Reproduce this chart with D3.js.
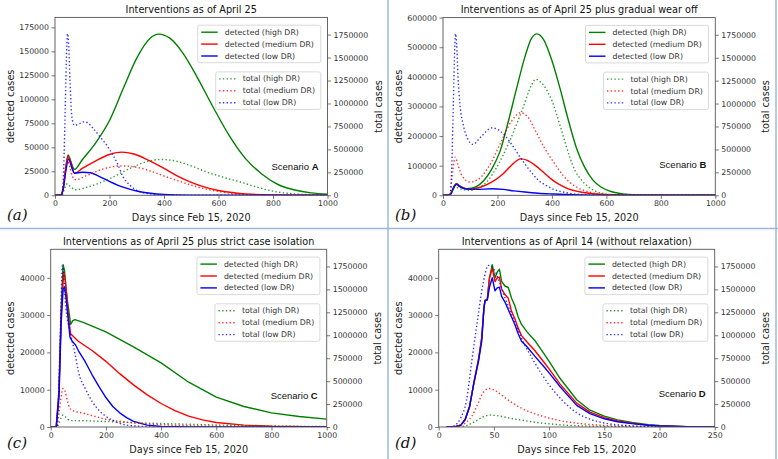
<!DOCTYPE html>
<html><head><meta charset="utf-8">
<script src="https://cdn.jsdelivr.net/npm/d3@7"></script>
<style>body{margin:0;background:#fff}svg{display:block}</style>
</head><body>
<svg id="chart" width="778" height="459"></svg>
<script>
// ---------------- DATA ----------------
const titles = ["Interventions as of April 25","Interventions as of April 25 plus gradual wear off","Interventions as of April 25 plus strict case isolation","Interventions as of April 14 (without relaxation)"];
const scenarios = ["A","B","C","D"];
const panelTags = ["(a)","(b)","(c)","(d)"];
const legendDetected = ["detected (high DR)","detected (medium DR)","detected (low DR)"];
const legendTotal = ["total (high DR)","total (medium DR)","total (low DR)"];
const xTicksLong = [0,200,400,600,800,1000];
const xTicksShort = [0,50,100,150,200,250];
const yTicksA = [0,25000,50000,75000,100000,125000,150000,175000];
const yTicksB = [0,100000,200000,300000,400000,500000,600000];
const yTicksCD = [0,10000,20000,30000,40000];
const rightTicks = [0,250000,500000,750000,1000000,1250000,1500000,1750000];

// Panel A
const aDetHigh = [[0,0],[20,0],[30,8000],[40,30000],[48,42000],[55,38000],[62,32000],[72,27000],[100,37000],[150,55000],[200,78000],[250,111000],[300,143000],[350,164000],[380,168000],[420,164000],[470,148000],[520,124000],[580,92000],[640,62000],[700,38000],[760,22000],[820,11000],[880,5500],[940,2500],[1000,1200]];
const aDetMed = [[0,0],[20,0],[30,7000],[40,28000],[48,41000],[55,37000],[62,30000],[72,23000],[100,28000],[150,36000],[200,42500],[245,45000],[290,43000],[340,37000],[400,28000],[450,20000],[500,13500],[550,8500],[600,5000],[700,1500],[800,400],[1000,0]];
const aDetLow = [[0,0],[20,0],[30,6000],[40,26000],[50,38000],[57,33000],[65,26000],[72,23000],[100,24000],[130,23500],[160,20000],[200,14500],[250,8500],[300,4500],[350,2200],[400,1000],[500,200],[600,0],[1000,0]];
const aTotHigh = [[0,0],[25,0],[35,70000],[45,125000],[55,100000],[75,60000],[120,90000],[200,180000],[280,300000],[340,370000],[390,390000],[440,375000],[500,320000],[560,250000],[620,195000],[680,145000],[740,90000],[800,45000],[860,20000],[920,8000],[1000,3000]];
const aTotMed = [[0,0],[25,0],[35,200000],[45,380000],[55,300000],[65,200000],[75,170000],[120,220000],[180,290000],[245,320000],[300,305000],[350,265000],[400,210000],[450,160000],[500,110000],[550,70000],[600,42000],[650,22000],[700,10000],[800,2000],[1000,0]];
const aTotLow = [[0,0],[25,0],[32,300000],[38,1000000],[43,1600000],[46,1760000],[50,1650000],[55,1250000],[62,850000],[72,760000],[90,780000],[105,800000],[120,790000],[135,745000],[170,620000],[200,500000],[230,340000],[250,200000],[275,110000],[300,55000],[350,15000],[400,3000],[500,0],[1000,0]];

// Panel B
const bDetHigh = [[0,0],[20,0],[30,8000],[40,30000],[50,40000],[60,32000],[75,25000],[90,22000],[120,28000],[150,50000],[180,90000],[210,150000],[240,250000],[270,360000],[300,465000],[325,530000],[345,545000],[370,525000],[400,455000],[430,360000],[460,255000],[490,160000],[520,95000],[550,52000],[580,28000],[620,12000],[680,3000],[750,500],[1000,0]];
const bDetMed = [[0,0],[20,0],[30,7000],[40,28000],[50,38000],[60,32000],[80,23000],[100,21000],[140,28000],[180,45000],[220,72000],[250,100000],[285,123000],[310,118000],[340,100000],[370,77000],[400,53000],[430,35000],[460,22000],[500,12000],[550,5000],[600,2000],[700,300],[1000,0]];
const bDetLow = [[0,0],[20,0],[30,6000],[40,27000],[50,37000],[60,30000],[80,22000],[120,20000],[180,22000],[220,20000],[260,15000],[300,11000],[350,7000],[400,4500],[450,2500],[500,1300],[600,300],[1000,0]];
const bTotHigh = [[0,0],[25,0],[35,50000],[45,90000],[55,80000],[75,60000],[100,55000],[130,80000],[165,160000],[200,320000],[240,560000],[290,925000],[325,1200000],[340,1265000],[360,1230000],[400,1030000],[430,760000],[450,560000],[485,270000],[510,160000],[535,90000],[580,25000],[640,5000],[1000,0]];
const bTotMed = [[0,0],[25,0],[35,250000],[45,415000],[55,330000],[70,210000],[100,145000],[130,175000],[170,320000],[210,560000],[250,800000],[285,900000],[310,860000],[340,700000],[370,530000],[410,345000],[440,220000],[470,130000],[500,75000],[540,35000],[600,10000],[700,1000],[1000,0]];
const bTotLow = [[0,0],[25,0],[32,300000],[38,1000000],[43,1600000],[46,1760000],[50,1650000],[55,1300000],[62,1000000],[75,760000],[90,620000],[110,555000],[140,640000],[180,735000],[210,700000],[250,565000],[280,430000],[300,345000],[330,230000],[350,165000],[380,105000],[400,73000],[450,30000],[500,10000],[600,1000],[1000,0]];

// Panel C
const cDetHigh = [[0,0],[20,0],[30,10000],[38,32000],[45,43500],[50,42000],[55,37500],[62,33000],[68,30000],[72,27500],[80,28500],[88,28800],[120,28000],[200,25500],[300,21500],[400,17200],[500,12000],[600,8000],[700,5500],[800,3800],[900,2800],[1000,2100]];
const cDetMed = [[0,0],[20,0],[30,9000],[38,30000],[47,41500],[52,40000],[57,36000],[64,30000],[72,25000],[100,23000],[150,20500],[200,17600],[250,14300],[300,11300],[350,8600],[400,6300],[450,4400],[500,2900],[550,1900],[600,1200],[700,500],[800,200],[1000,0]];
const cDetLow = [[0,0],[20,0],[30,8000],[38,28000],[45,37000],[50,37500],[55,35000],[62,30000],[70,24000],[78,23000],[90,22000],[100,20500],[125,17500],[150,14000],[175,10800],[200,7900],[225,5500],[250,3800],[275,2500],[300,1500],[350,500],[400,150],[500,0],[1000,0]];
const cTotHigh = [[0,0],[22,0],[30,40000],[38,100000],[45,130000],[52,115000],[62,85000],[75,70000],[120,68000],[200,60000],[300,48000],[400,38000],[500,30000],[600,22000],[700,16000],[800,11000],[900,7500],[1000,5000]];
const cTotMed = [[0,0],[22,0],[30,150000],[38,330000],[45,420000],[52,390000],[60,290000],[70,200000],[80,180000],[120,150000],[160,115000],[200,85000],[250,62000],[300,45000],[400,25000],[500,14000],[600,8000],[800,2000],[1000,500]];
const cTotLow = [[0,0],[22,0],[28,300000],[33,800000],[38,1400000],[42,1760000],[47,1650000],[55,1300000],[65,1100000],[75,970000],[90,770000],[100,610000],[125,420000],[150,280000],[175,180000],[200,117000],[250,40000],[300,12000],[400,2000],[1000,0]];

// Panel D
const dDetHigh = [[7,0],[15,100],[20,500],[24,2000],[28,5500],[32,12000],[36,18000],[39,24000],[41,32000],[42,34000],[44,34200],[46,40000],[48.5,43500],[51,40000],[53,41500],[55,42300],[57,39000],[60,37800],[63,37400],[66,34500],[69,32500],[72,29500],[75,27500],[80,25500],[87,23200],[95,19800],[100,17600],[110,13000],[125,7300],[137,4500],[150,2900],[162,1900],[175,1200],[190,600],[200,400],[225,100],[250,0]];
const dDetMed = [[7,0],[15,100],[20,500],[24,2000],[28,5500],[32,12000],[36,18000],[39,24000],[41,32000],[42,34000],[44,34200],[46,40000],[48.5,42500],[51,39000],[53,40000],[55,40200],[57,37000],[60,35500],[63,34500],[66,31000],[69,29000],[72,26500],[75,24500],[80,22800],[87,20500],[95,17500],[100,15600],[110,11500],[125,6400],[137,4000],[150,2500],[162,1600],[175,1000],[190,500],[200,300],[225,80],[250,0]];
const dDetLow = [[7,0],[15,100],[20,500],[24,2000],[28,5500],[32,12000],[36,17500],[39,23000],[41,32000],[42,33800],[44,34000],[46,37500],[48.5,40000],[51,36500],[53,37300],[55,37500],[57,35000],[60,33500],[63,31500],[66,29500],[69,27500],[72,25000],[75,23000],[80,21500],[87,19000],[95,16300],[100,14500],[110,10800],[125,5800],[137,3600],[150,2200],[162,1400],[175,900],[190,450],[200,250],[225,60],[250,0]];
const dTotHigh = [[15,0],[20,5000],[25,15000],[30,40000],[35,75000],[40,110000],[47,130000],[55,120000],[65,95000],[75,75000],[87,52000],[100,35000],[112,22000],[125,14000],[150,5000],[175,1500],[200,500],[250,0]];
const dTotMed = [[10,0],[20,20000],[25,50000],[30,117000],[35,240000],[40,370000],[46,420000],[52,390000],[60,320000],[67,260000],[75,205000],[87,145000],[100,98000],[112,65000],[125,42000],[150,17000],[175,6000],[200,2000],[250,0]];
const dTotLow = [[10,0],[15,20000],[20,100000],[25,280000],[30,720000],[35,1150000],[40,1550000],[45,1760000],[50,1720000],[55,1580000],[60,1410000],[67,1200000],[75,970000],[87,700000],[100,460000],[112,290000],[125,155000],[137,85000],[150,44000],[175,12000],[200,3000],[250,0]];

// ---------------- LAYOUT ----------------
const colors = ["#008000","#ff0000","#0000ff"];
const panels = [
  {box:[55,327.5,17.4,195.3], xMax:1000, xTicks:xTicksLong, yMax:185400, yTicks:yTicksA, det:[aDetHigh,aDetMed,aDetLow], tot:[aTotHigh,aTotMed,aTotLow], ox:0, oy:0, scenY:149, jag:false},
  {box:[443,715.3,17.6,195.3], xMax:1000, xTicks:xTicksLong, yMax:600000, yTicks:yTicksB, det:[bDetHigh,bDetMed,bDetLow], tot:[bTotHigh,bTotMed,bTotLow], ox:388, oy:0, scenY:146, jag:false},
  {box:[50.7,326.7,249.3,427], xMax:1000, xTicks:xTicksLong, yMax:47640, yTicks:yTicksCD, det:[cDetHigh,cDetMed,cDetLow], tot:[cTotHigh,cTotMed,cTotLow], ox:0, oy:228, scenY:145.5, jag:true},
  {box:[438.7,714.7,249.3,427], xMax:250, xTicks:xTicksShort, yMax:47640, yTicks:yTicksCD, det:[dDetHigh,dDetMed,dDetLow], tot:[dTotHigh,dTotMed,dTotLow], ox:388, oy:228, scenY:144, jag:true}
];
const rMax = 1937000;

const svg = d3.select("#chart");
const FONT = "DejaVu Sans, sans-serif";

// separators
const sep = svg.append("g").attr("stroke","#9db8da").attr("stroke-width",1.5);
sep.append("line").attr("x1",388).attr("x2",388).attr("y1",0).attr("y2",459);
sep.append("line").attr("x1",776).attr("x2",776).attr("y1",0).attr("y2",459);
sep.append("line").attr("x1",0).attr("x2",778).attr("y1",228.5).attr("y2",228.5);

panels.forEach((p,i)=>{
  const [L,R,T,B] = p.box;
  const x = d3.scaleLinear().domain([0,p.xMax]).range([L,R]);
  const y = d3.scaleLinear().domain([0,p.yMax]).range([B,T]);
  const yr = d3.scaleLinear().domain([0,rMax]).range([B,T]);
  const g = svg.append("g");
  const clipId = "clip"+i;
  g.append("clipPath").attr("id",clipId).append("rect").attr("x",L).attr("y",T).attr("width",R-L).attr("height",B-T);

  const plot = g.append("g").attr("clip-path",`url(#${clipId})`);
  const lineL = d3.line().x(d=>x(d[0])).y(d=>y(d[1])).curve(p.jag?d3.curveLinear:d3.curveMonotoneX);
  const lineR = d3.line().x(d=>x(d[0])).y(d=>yr(d[1])).curve(d3.curveMonotoneX);
  p.det.forEach((s,k)=>{
    plot.append("path").attr("d",lineL(s)).attr("fill","none").attr("stroke",colors[k]).attr("stroke-width",1.4).attr("stroke-linejoin","round");
  });
  p.tot.forEach((s,k)=>{
    plot.append("path").attr("d",lineR(s)).attr("fill","none").attr("stroke",colors[k]).attr("stroke-opacity",0.8).attr("stroke-width",1.4).attr("stroke-dasharray","1.4,2.3");
  });

  // axes
  const fmt = d3.format("d");
  const ax = g.append("g").attr("transform",`translate(0,${B})`).call(d3.axisBottom(x).tickValues(p.xTicks).tickFormat(fmt).tickSize(3.5).tickPadding(2));
  const ay = g.append("g").attr("transform",`translate(${L},0)`).call(d3.axisLeft(y).tickValues(p.yTicks).tickFormat(fmt).tickSize(3.5).tickPadding(2.5));
  const ar = g.append("g").attr("transform",`translate(${R},0)`).call(d3.axisRight(yr).tickValues(rightTicks).tickFormat(fmt).tickSize(3.5).tickPadding(2.5));
  [ax,ay,ar].forEach(a=>{
    a.selectAll("text").attr("font-family",FONT).attr("font-size",7.8).attr("fill","#333");
    a.selectAll("line").attr("stroke","#555").attr("stroke-width",0.8);
    a.select(".domain").remove();
  });
  g.append("rect").attr("x",L).attr("y",T).attr("width",R-L).attr("height",B-T).attr("fill","none").attr("stroke","#555").attr("stroke-width",0.9);

  // titles & labels
  const cx = (L+R)/2, cy = (T+B)/2;
  g.append("text").attr("x",cx).attr("y",T-4.5).attr("text-anchor","middle").attr("font-family",FONT).attr("font-size",9.7).attr("fill","#111").text(titles[i]);
  g.append("text").attr("x",cx).attr("y",B+25.5).attr("text-anchor","middle").attr("font-family",FONT).attr("font-size",9.7).attr("fill","#222").text("Days since Feb 15, 2020");
  g.append("text").attr("transform",`translate(${p.ox+13.5},${cy}) rotate(-90)`).attr("text-anchor","middle").attr("font-family",FONT).attr("font-size",9.7).attr("fill","#222").text("detected cases");
  g.append("text").attr("transform",`translate(${R+54},${cy}) rotate(-90)`).attr("text-anchor","middle").attr("font-family",FONT).attr("font-size",9.7).attr("fill","#222").text("total cases");
  g.append("text").attr("x",p.ox+7).attr("y",p.oy+220).attr("font-family","DejaVu Serif, serif").attr("font-style","italic").attr("font-size",15).attr("fill","#111").text(panelTags[i]);

  // scenario label
  const sc = g.append("text").attr("x",R-9).attr("y",T+p.scenY).attr("dominant-baseline","central").attr("text-anchor","end").attr("font-family","Liberation Sans, Arial, sans-serif").attr("font-size",9.5).attr("fill","#111");
  sc.append("tspan").text("Scenario ");
  sc.append("tspan").attr("font-weight","bold").text(scenarios[i]);

  // legends
  function legend(items, top, width, dashed){
    const lx = R-6.8-width;
    const lg = g.append("g");
    lg.append("rect").attr("x",lx).attr("y",top).attr("width",width).attr("height",37.5).attr("rx",2).attr("fill","#fff").attr("fill-opacity",0.85).attr("stroke","#cfcfcf").attr("stroke-width",0.8);
    items.forEach((t,k)=>{
      const yy = top+7+k*11.9;
      lg.append("line").attr("x1",lx+3.5).attr("x2",lx+20).attr("y1",yy).attr("y2",yy).attr("stroke",colors[k]).attr("stroke-width",1.4).attr("stroke-opacity",dashed?0.8:1).attr("stroke-dasharray",dashed?"1.4,2.3":null);
      lg.append("text").attr("x",lx+27).attr("y",yy).attr("dominant-baseline","central").attr("font-family",FONT).attr("font-size",7.8).attr("fill","#333").text(t);
    });
  }
  legend(legendDetected, T+7.8, 123, false);
  legend(legendTotal, T+54.5, 105, true);
});
</script>
</body></html>
